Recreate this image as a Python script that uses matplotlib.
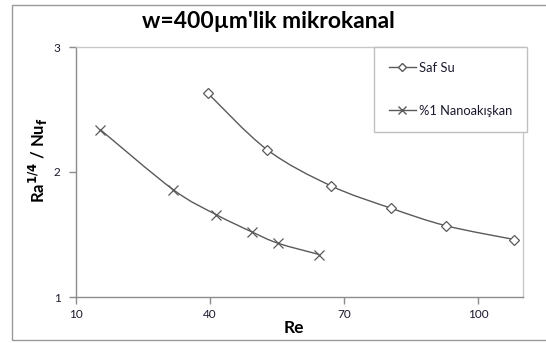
import numpy as np
import matplotlib.pyplot as plt
from matplotlib.path import Path
from matplotlib.patches import PathPatch, Rectangle
from matplotlib.lines import Line2D

# Re vs Ra^(1/4)/Nu_f for the 400 um channel
re_saf = [39.5, 52.7, 67.0, 80.5, 92.8, 108.0]
val_saf = [2.63, 2.18, 1.89, 1.71, 1.57, 1.46]
re_nano = [15.4, 31.7, 41.3, 49.4, 55.2, 64.4]
val_nano = [2.34, 1.86, 1.66, 1.52, 1.43, 1.34]

x_ticks = [10, 40, 70, 100]
y_ticks = [1, 2, 3]

LINE = '#5a5a5a'
TEXT = '#1a1a2e'
FONT = 'Lato'


def smooth_path(xs, ys):
    # Catmull-Rom style bezier segments through the points (like a smoothed line)
    pts = np.column_stack([xs, ys]).astype(float)
    n = len(pts)
    verts = [pts[0]]
    codes = [Path.MOVETO]
    for i in range(n - 1):
        p0 = pts[i - 1] if i > 0 else pts[i]
        p1 = pts[i]
        p2 = pts[i + 1]
        p3 = pts[i + 2] if i + 2 < n else pts[i + 1]
        c1 = p1 + (p2 - p0) / 6.0
        c2 = p2 - (p3 - p1) / 6.0
        verts += [c1, c2, p2]
        codes += [Path.CURVE4] * 3
    return Path(verts, codes)


fig = plt.figure(figsize=(5.46, 3.43), dpi=100)

# outer chart frame
fig.patches.append(Rectangle((12 / 546, 3 / 343), 540 / 546, 335 / 343,
                             transform=fig.transFigure, fill=False,
                             edgecolor='#9a9a9a', linewidth=1.0))

ax = fig.add_axes([76 / 546, 1 - 297 / 343, 447 / 546, 250 / 343])
ax.set_xlim(10, 110)
ax.set_ylim(1, 3)

for xs, ys in [(re_saf, val_saf), (re_nano, val_nano)]:
    ax.add_patch(PathPatch(smooth_path(xs, ys), facecolor='none',
                           edgecolor=LINE, linewidth=1.0))

ax.plot(re_saf, val_saf, linestyle='none', marker='D', markersize=5,
        markerfacecolor='white', markeredgecolor=LINE, markeredgewidth=0.9)
ax.plot(re_nano, val_nano, linestyle='none', marker='x', markersize=7,
        markeredgecolor=LINE, markeredgewidth=0.9)

ax.set_xticks(x_ticks)
ax.set_yticks(y_ticks)
ax.tick_params(direction='out', length=5, width=1, color='#8c8c8c',
               labelsize=8.5, labelcolor=TEXT)
ax.tick_params(axis='x', pad=4)
ax.tick_params(axis='y', pad=6)
for lab in ax.get_xticklabels() + ax.get_yticklabels():
    lab.set_family(FONT)

for side in ['left', 'bottom']:
    ax.spines[side].set_color('#8c8c8c')
    ax.spines[side].set_linewidth(1.0)
for side in ['top', 'right']:
    ax.spines[side].set_color('#c8c8c8')
    ax.spines[side].set_linewidth(1.0)

ax.set_xlabel('Re', fontsize=12.5, fontweight='bold', family=FONT,
              color='black')
ax.xaxis.set_label_coords((294 - 76) / 447, -(328 - 297) / 250)
ax.xaxis.label.set_va('center')
ax.set_ylabel(r'Ra$^{\mathbf{1/4}}$ / Nu$_{\mathbf{f}}$', fontsize=12,
              fontweight='bold', family=FONT, color='black')
ax.yaxis.set_label_coords(-(76 - 38) / 447, (297 - 160) / 250)
ax.yaxis.label.set_va('center')

fig.text(268 / 546, 1 - 22 / 343, "w=400µm'lik mikrokanal", ha='center',
         va='center', fontsize=16.5, fontweight='bold', family=FONT)

# legend box
handles = [
    Line2D([], [], color=LINE, lw=1.0, marker='D', markersize=4,
           markerfacecolor='white', markeredgecolor=LINE),
    Line2D([], [], color=LINE, lw=1.0, marker='x', markersize=6,
           markeredgecolor=LINE),
]
leg = ax.legend(handles, ['Saf Su', '%1 Nanoakışkan'],
                loc='upper left', bbox_to_anchor=(374 / 546, 1 - 47 / 343),
                bbox_transform=fig.transFigure, borderaxespad=0,
                frameon=True, fancybox=False,
                edgecolor='#c0c0c0', framealpha=1, borderpad=1.15,
                labelspacing=2.4, handlelength=2.1, handletextpad=0.2,
                prop={'family': FONT, 'size': 9.3})
leg.get_frame().set_linewidth(1.0)
for t in leg.get_texts():
    t.set_color(TEXT)

fig.savefig('out.png', dpi=100)
